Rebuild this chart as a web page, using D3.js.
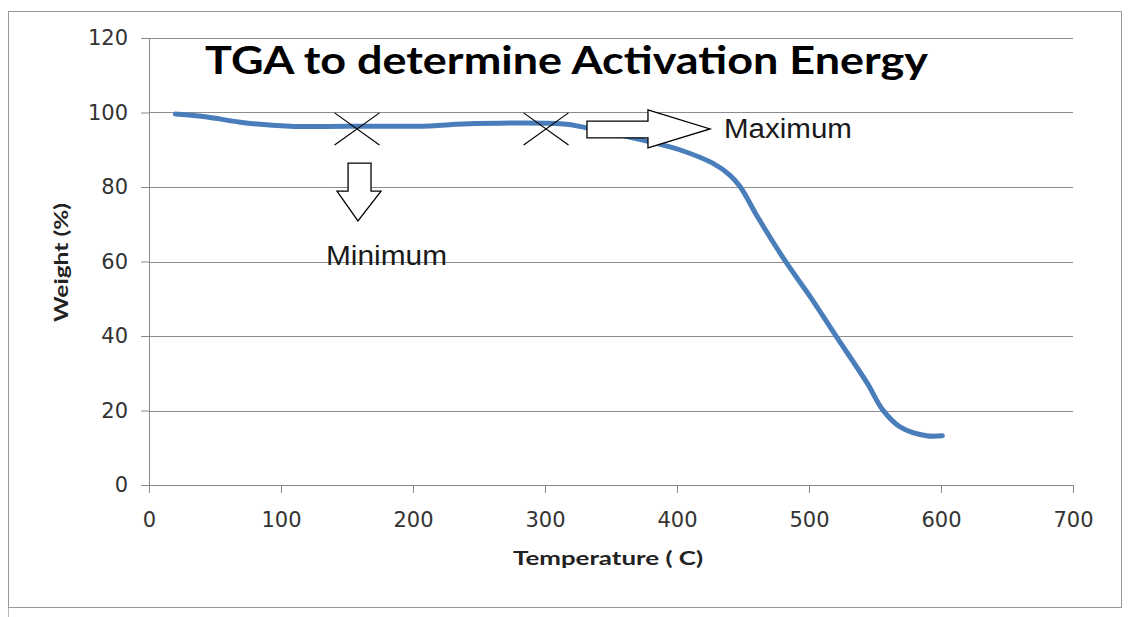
<!DOCTYPE html>
<html>
<head>
<meta charset="utf-8">
<script src="https://cdn.jsdelivr.net/npm/d3@7"></script>
<style>
  body { margin: 0; background: #fff; }
  .tick text { font-family: "DejaVu Sans", sans-serif; font-size: 21px; fill: #333; }
  .tick line { stroke: #888; }
  .domain { stroke: #888; }
</style>
</head>
<body>
<div id="chart"></div>
<script>
// TGA curve: temperature (C) and weight (%)
var temps   = [20, 44, 69, 107, 150, 213, 238, 314, 330, 364, 389, 402, 427, 440, 448, 461, 483, 501, 521, 544, 556, 569, 589, 601];
var weights = [99.6, 98.8, 97.4, 96.3, 96.3, 96.4, 96.9, 96.9, 96.0, 93.4, 91.3, 90.0, 86.4, 83.2, 80.0, 72.0, 59.6, 50.5, 39.7, 27.4, 20.1, 15.6, 13.2, 13.2];

var xTicks = [0, 100, 200, 300, 400, 500, 600, 700];
var yTicks = [0, 20, 40, 60, 80, 100, 120];

// cross marks (centre temp, centre weight)
var crossX = [157.6, 300.8];
var crossY = [95.6, 95.6];

var svgWidth = 1131;
var svgHeight = 617;

var margin = { top: 38, right: 58, bottom: 132, left: 149 };
var width = svgWidth - margin.left - margin.right;
var height = svgHeight - margin.top - margin.bottom;

var svg = d3.select("#chart")
  .append("svg")
  .attr("width", svgWidth)
  .attr("height", svgHeight);

// outer chart border
svg.append("rect")
  .attr("x", 8.5).attr("y", 11.5)
  .attr("width", 1113).attr("height", 596)
  .attr("fill", "none")
  .attr("stroke", "#999");
svg.append("line")
  .attr("x1", 8.5).attr("x2", 8.5).attr("y1", 608).attr("y2", 617)
  .attr("stroke", "#bbb");

var chartGroup = svg.append("g")
  .attr("transform", `translate(${margin.left}, ${margin.top})`);

var xScale = d3.scaleLinear().domain([0, 700]).range([0, width]);
var yScale = d3.scaleLinear().domain([0, 120]).range([height, 0]);

// gridlines
chartGroup.append("g")
  .selectAll("line")
  .data(yTicks.filter(d => d > 0))
  .enter()
  .append("line")
  .attr("x1", 0).attr("x2", width)
  .attr("y1", d => Math.round(yScale(d)) + 0.5)
  .attr("y2", d => Math.round(yScale(d)) + 0.5)
  .attr("stroke", "#8c8c8c");

var bottomAxis = d3.axisBottom(xScale).tickValues(xTicks).tickSize(8).tickPadding(19).tickSizeOuter(0);
var leftAxis = d3.axisLeft(yScale).tickValues(yTicks).tickSize(8).tickPadding(13).tickSizeOuter(0);

chartGroup.append("g")
  .attr("transform", `translate(0, ${height})`)
  .call(bottomAxis);

chartGroup.append("g")
  .call(leftAxis);

// the TGA curve
var line = d3.line()
  .x(d => xScale(d[0]))
  .y(d => yScale(d[1]))
  .curve(d3.curveCatmullRom);

chartGroup.append("path")
  .datum(temps.map((t, i) => [t, weights[i]]))
  .attr("d", line)
  .attr("fill", "none")
  .attr("stroke", "#4a7ebb")
  .attr("stroke-width", 5)
  .attr("stroke-linecap", "round");

// X marks
var crossHalfX = 17, crossHalfY = 4.3;
crossX.forEach(function(cx, i) {
  var cy = crossY[i];
  chartGroup.append("line")
    .attr("x1", xScale(cx - crossHalfX)).attr("y1", yScale(cy + crossHalfY))
    .attr("x2", xScale(cx + crossHalfX)).attr("y2", yScale(cy - crossHalfY))
    .attr("stroke", "#000").attr("stroke-width", 1.2);
  chartGroup.append("line")
    .attr("x1", xScale(cx - crossHalfX)).attr("y1", yScale(cy - crossHalfY))
    .attr("x2", xScale(cx + crossHalfX)).attr("y2", yScale(cy + crossHalfY))
    .attr("stroke", "#000").attr("stroke-width", 1.2);
});

// block arrows
var rightArrow = [[331.8, 97.7], [378, 97.7], [378, 100.7], [425, 95.6], [378, 90.5], [378, 93.2], [331.8, 93.2]];
var downArrow = [[150.8, 86.4], [168.2, 86.4], [168.2, 78.9], [175.8, 78.9], [158.3, 70.9], [142.4, 78.9], [150.8, 78.9]];

[rightArrow, downArrow].forEach(function(pts) {
  chartGroup.append("polygon")
    .attr("points", pts.map(p => `${xScale(p[0])},${yScale(p[1])}`).join(" "))
    .attr("fill", "#fff")
    .attr("stroke", "#000")
    .attr("stroke-width", 1.3);
});

chartGroup.append("text")
  .attr("x", xScale(435.6)).attr("y", yScale(93.2))
  .style("font-family", "'Liberation Sans', Arial, sans-serif")
  .style("font-size", "27px")
  .attr("fill", "#1a1a1a")
  .attr("textLength", 128).attr("lengthAdjust", "spacingAndGlyphs")
  .text("Maximum");

chartGroup.append("text")
  .attr("x", xScale(134.1)).attr("y", yScale(59.1))
  .style("font-family", "'Liberation Sans', Arial, sans-serif")
  .style("font-size", "27px")
  .attr("fill", "#1a1a1a")
  .attr("textLength", 121).attr("lengthAdjust", "spacingAndGlyphs")
  .text("Minimum");

// title and axis titles
svg.append("text")
  .attr("x", 205).attr("y", 74)
  .style("font-family", "Lato, 'Open Sans', sans-serif")
  .style("font-weight", "bold")
  .style("font-size", "39px")
  .attr("textLength", 723).attr("lengthAdjust", "spacingAndGlyphs")
  .text("TGA to determine Activation Energy");

svg.append("text")
  .attr("x", 513).attr("y", 565)
  .style("font-family", "Lato, 'Open Sans', sans-serif")
  .style("font-weight", "bold")
  .style("font-size", "19px")
  .attr("fill", "#222")
  .attr("textLength", 190).attr("lengthAdjust", "spacingAndGlyphs")
  .text("Temperature ( C)");

svg.append("text")
  .attr("transform", "translate(68, 322) rotate(-90)")
  .style("font-family", "Lato, 'Open Sans', sans-serif")
  .style("font-weight", "bold")
  .style("font-size", "19px")
  .attr("fill", "#222")
  .attr("textLength", 119).attr("lengthAdjust", "spacingAndGlyphs")
  .text("Weight (%)");
</script>
</body>
</html>
